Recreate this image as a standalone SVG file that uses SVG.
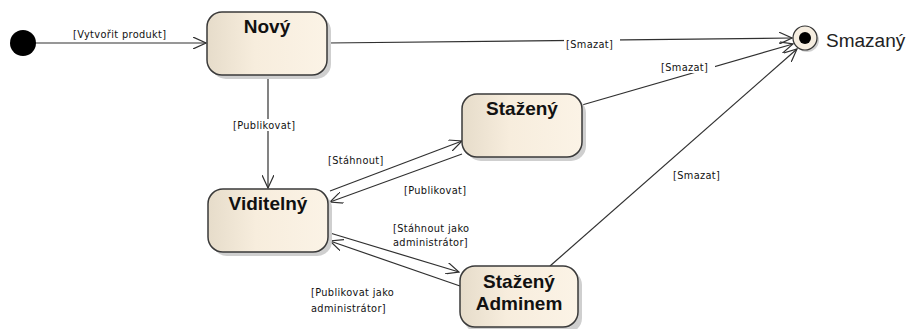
<svg xmlns="http://www.w3.org/2000/svg" width="906" height="329" viewBox="0 0 906 329">
<defs>
<linearGradient id="g" x1="0" y1="0" x2="1" y2="0">
<stop offset="0" stop-color="#e6dcca"/>
<stop offset="0.4" stop-color="#f7eddd"/>
<stop offset="1" stop-color="#fbf3e6"/>
</linearGradient>
<marker id="arr" viewBox="0 0 14 12" refX="13" refY="6" markerWidth="14" markerHeight="12" markerUnits="userSpaceOnUse" orient="auto">
<path d="M0,0 L13,6 L0,12" fill="none" stroke="#303030" stroke-width="1.2"/>
</marker>
</defs>
<style>
.st rect.b{fill:url(#g);stroke:#3a3a3a;stroke-width:1.5}
.st rect.s{fill:#cfcfcf}
.nm{font-family:"Liberation Sans",Arial,sans-serif;font-size:19px;font-weight:bold;fill:#111;text-anchor:middle}
.lb{font-family:"DejaVu Sans",Verdana,sans-serif;font-size:9.8px;fill:#111;letter-spacing:0.35px}
.ln{stroke:#303030;stroke-width:1.2;fill:none;marker-end:url(#arr)}
.bg{fill:#fff}
</style>
<rect width="906" height="329" fill="#fff"/>
<g id="connectors">
<line class="ln" x1="35" y1="43" x2="206" y2="43"/>
<line class="ln" x1="327" y1="43" x2="792" y2="38"/>
<line class="ln" x1="582" y1="105" x2="793" y2="44"/>
<line class="ln" x1="550" y1="266" x2="797" y2="49"/>
<line class="ln" x1="268" y1="75" x2="268" y2="188"/>
<line class="ln" x1="330" y1="191" x2="462" y2="141"/>
<line class="ln" x1="462" y1="154" x2="330" y2="202"/>
<line class="ln" x1="330" y1="233" x2="459" y2="272"/>
<line class="ln" x1="460" y1="286" x2="330" y2="241"/>
<rect class="bg" x="564" y="38" width="56" height="12"/>
<rect class="bg" x="659" y="61" width="56" height="12"/>
<rect class="bg" x="231" y="119" width="74" height="12"/>
<text class="lb" x="73" y="38">[Vytvořit produkt]</text>
<text class="lb" x="566" y="48">[Smazat]</text>
<text class="lb" x="661" y="71">[Smazat]</text>
<text class="lb" x="673" y="179">[Smazat]</text>
<text class="lb" x="233" y="129">[Publikovat]</text>
<text class="lb" x="328" y="164">[Stáhnout]</text>
<text class="lb" x="404" y="194">[Publikovat]</text>
<text class="lb" x="393" y="232">[Stáhnout jako</text>
<text class="lb" x="393" y="246">administrátor]</text>
<text class="lb" x="311" y="296">[Publikovat jako</text>
<text class="lb" x="311" y="312">administrátor]</text>
</g>
<g id="initial">
<circle cx="23" cy="43" r="13" fill="#000"/>
</g>
<g id="final">
<circle cx="807" cy="40" r="12" fill="#d0d0d0"/>
<circle cx="805" cy="38" r="12" fill="#f5ede0" stroke="#333" stroke-width="1.2"/>
<circle cx="805" cy="38" r="6" fill="#000"/>
<text x="826" y="47" font-family="'Liberation Sans',Arial,sans-serif" font-size="19" fill="#222">Smazaný</text>
</g>
<g id="novy" class="st">
<rect class="s" x="211" y="16" width="120" height="63" rx="15"/>
<rect class="b" x="207" y="12" width="120" height="63" rx="15"/>
<text class="nm" x="267" y="33">Nový</text>
</g>
<g id="stazeny" class="st">
<rect class="s" x="466" y="98" width="120" height="63" rx="15"/>
<rect class="b" x="462" y="94" width="120" height="63" rx="15"/>
<text class="nm" x="522" y="115">Stažený</text>
</g>
<g id="viditelny" class="st">
<rect class="s" x="212" y="193" width="120" height="63" rx="15"/>
<rect class="b" x="208" y="189" width="120" height="63" rx="15"/>
<text class="nm" x="268" y="210">Viditelný</text>
</g>
<g id="stazeny-adminem" class="st">
<rect class="s" x="464" y="270" width="118" height="63" rx="15"/>
<rect class="b" x="460" y="266" width="118" height="61" rx="15"/>
<text class="nm" x="519" y="288">Stažený</text>
<text class="nm" x="519" y="310">Adminem</text>
</g>
</svg>
